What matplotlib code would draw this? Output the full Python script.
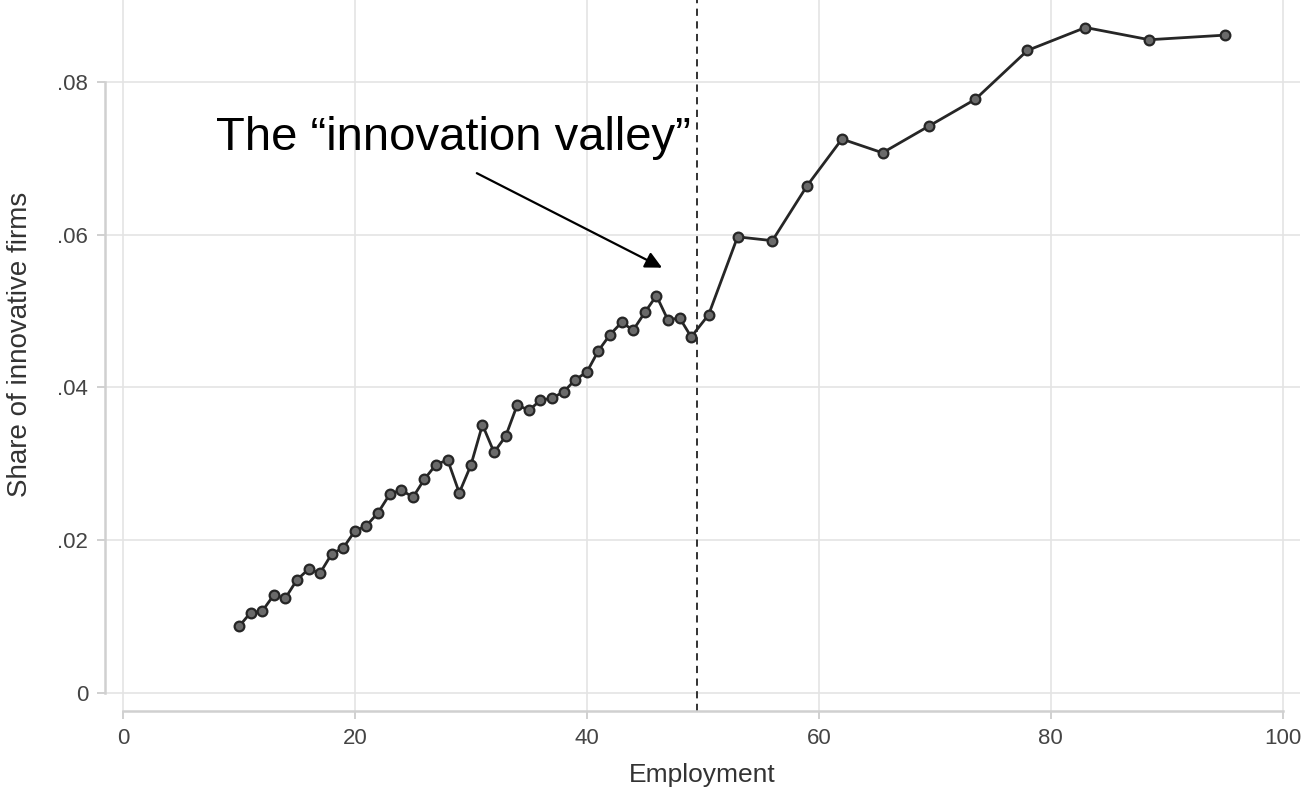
import matplotlib
matplotlib.use("Agg")
import matplotlib.pyplot as plt

# ---- data ----
employment = [10, 11, 12, 13, 14, 15, 16, 17, 18, 19, 20, 21, 22, 23, 24, 25, 26, 27, 28, 29,
              30, 31, 32, 33, 34, 35, 36, 37, 38, 39, 40, 41, 42, 43, 44, 45, 46, 47, 48, 49,
              50.5, 53, 56, 59, 62, 65.5, 69.5, 73.5, 78, 83, 88.5, 95]
share = [.0087, .0105, .0107, .0128, .0124, .0148, .0162, .0157, .0182, .0190,
         .0212, .0219, .0236, .0260, .0266, .0256, .0280, .0299, .0305, .0262,
         .0298, .0351, .0315, .0336, .0377, .0370, .0383, .0386, .0394, .0410,
         .0420, .0448, .0469, .0485, .0475, .0498, .0520, .0488, .0491, .0466,
         .0495, .0597, .0592, .0664, .0725, .0707, .0742, .0777, .0841, .0871, .0855, .0861]
threshold = 49.5
xticks = [0, 20, 40, 60, 80, 100]
yticks = [0, .02, .04, .06, .08]
yticklabels = ["0", ".02", ".04", ".06", ".08"]
xlabel = "Employment"
ylabel = "Share of innovative firms"
annotation = "The \u201cinnovation valley\u201d"

plt.rcParams['font.family'] = ['Liberation Sans', 'DejaVu Sans']

fig = plt.figure(figsize=(13.06, 7.95), dpi=100)
ax = fig.add_axes([105/1306, (795-711)/795, (1300-105)/1306, 711/795])

ax.set_xlim(-1.55, 101.5)
ax.set_ylim(-0.00236, 0.0907)

# grid
for x in xticks:
    ax.axvline(x, color='#e4e4e4', lw=1.2, zorder=0)
for y in yticks:
    ax.axhline(y, color='#e4e4e4', lw=1.2, zorder=0)

ax.axvline(threshold, color='#222222', lw=1.3, ls=(0, (4, 3)), zorder=1)

ax.plot(employment, share, color='#262626', lw=2.0, marker='o', ms=7,
        mfc='#6a6a6a', mec='#262626', mew=1.6, zorder=3)

ax.set_xticks(xticks)
ax.set_xticklabels([str(v) for v in xticks])
ax.set_yticks(yticks)
ax.set_yticklabels(yticklabels)

for s in ['top', 'right']:
    ax.spines[s].set_visible(False)
for s in ['left', 'bottom']:
    ax.spines[s].set_color('#d0d0d0')
    ax.spines[s].set_linewidth(1.8)
ax.spines['left'].set_bounds(0, 0.08)
ax.spines['bottom'].set_bounds(0, 100)

ax.tick_params(axis='both', colors='#c8c8c8', labelcolor='#444444', labelsize=16,
               length=6, width=1.2, pad=6)

ax.set_xlabel(xlabel, fontsize=19, color='#333333', labelpad=10)
ax.set_ylabel(ylabel, fontsize=20, color='#333333')
ax.yaxis.set_label_coords(-0.060, 0.515)

ax.text(8.0, 0.0711, annotation, fontsize=34, color='black', ha='left', va='baseline',
        zorder=5)
ax.annotate("", xy=(46.7, 0.0555), xytext=(30.3, 0.0682),
            arrowprops=dict(arrowstyle='-|>', color='black', lw=1.6,
                            mutation_scale=25), zorder=5)

fig.savefig("out.png", dpi=100)
